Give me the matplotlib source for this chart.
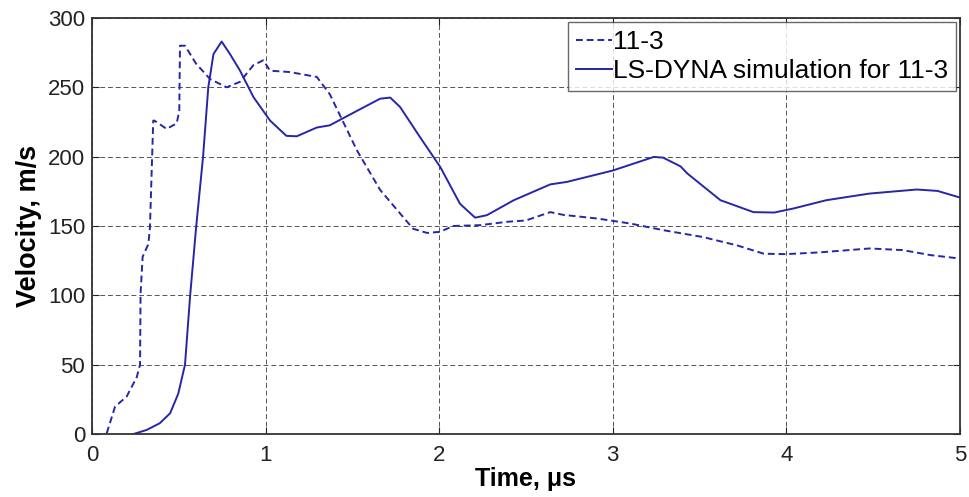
import matplotlib
matplotlib.use("Agg")
import matplotlib.pyplot as plt

plt.rcParams['font.family'] = ['Liberation Sans', 'DejaVu Sans']

# Measured velocity, test 11-3
t_exp = [0.085, 0.133, 0.2, 0.258, 0.277, 0.28, 0.292, 0.325, 0.334, 0.353, 0.36,
         0.43, 0.488, 0.503, 0.507, 0.536, 0.6, 0.68, 0.776, 0.853, 0.93, 0.987,
         1.026, 1.14, 1.295, 1.37, 1.526, 1.66, 1.775, 1.85, 1.93, 2.006, 2.08,
         2.236, 2.39, 2.5, 2.64, 2.716, 2.91, 3.1, 3.29, 3.4, 3.52, 3.716, 3.87,
         4.0, 4.196, 4.48, 4.67, 4.83, 5.0]
v_exp = [0.5, 19.7, 27, 41, 50, 101.6, 127.8, 137, 149, 226, 226,
         220, 224, 233, 280, 280, 267, 256, 250, 254, 266, 269.5,
         262, 261, 257.5, 245, 204.6, 176, 159, 148, 145, 145.8, 150,
         150.6, 153, 154, 160, 158, 155.4, 151.8, 147, 144.6, 142, 136, 130,
         129.7, 131, 133.8, 132.6, 129, 126.5]

# LS-DYNA simulation for 11-3
t_sim = [0.24, 0.315, 0.39, 0.45, 0.497, 0.536, 0.565, 0.6, 0.64, 0.67, 0.7,
         0.747, 0.795, 0.853, 0.93, 1.026, 1.12, 1.18, 1.295, 1.37, 1.526, 1.66,
         1.718, 1.775, 1.89, 2.006, 2.12, 2.207, 2.275, 2.43, 2.64, 2.736, 3.0,
         3.236, 3.29, 3.39, 3.43, 3.62, 3.81, 3.93, 4.04, 4.23, 4.48, 4.75, 4.87,
         5.0]
v_sim = [0, 2.9, 7.7, 14.9, 29, 50, 99, 149, 200, 250, 274,
         283, 274, 262, 243, 226, 215, 214.7, 221, 222.6, 233, 241.8,
         242.6, 235.8, 214, 192.6, 166, 156, 157.8, 168.6, 180, 181.8, 190,
         199.8, 199.3, 193, 187.8, 168.6, 160, 159.7, 162.6, 168.6, 173.4, 176.3, 175.3,
         170.5]

x_ticks = [0, 1, 2, 3, 4, 5]
y_ticks = [0, 50, 100, 150, 200, 250, 300]

line_color = '#2626a8'

fig = plt.figure(figsize=(9.7, 4.97), dpi=100)
ax = fig.add_axes([0.0948, 0.1268, 0.8949, 0.837])

ax.plot(t_exp, v_exp, linestyle=(0, (3.5, 2)), color=line_color, linewidth=1.4, label='11-3')
ax.plot(t_sim, v_sim, linestyle='-', color=line_color, linewidth=1.4,
        label='LS-DYNA simulation for 11-3')

ax.set_xlim(0, 5)
ax.set_ylim(0, 300)
ax.set_xticks(x_ticks)
ax.set_yticks(y_ticks)
ax.tick_params(direction='in', top=True, right=True, labelsize=16, length=5, width=0.8,
               colors='#222222')
ax.tick_params(axis='x', pad=8)
ax.tick_params(axis='y', pad=5)
ax.grid(True, linestyle=(0, (5, 3)), color='#555555', linewidth=0.7)

for s in ax.spines.values():
    s.set_linewidth(1.3)
    s.set_color('#333333')

ax.set_xlabel('Time, \u03bcs', fontsize=18, fontweight='bold', labelpad=1)
ax.set_ylabel('Velocity, m/s', fontsize=19.5, fontweight='bold', labelpad=4)

leg = ax.legend(loc='upper right', fontsize=19, frameon=True, fancybox=False,
                borderpad=0.3, handlelength=1.35, handletextpad=0.05, labelspacing=0.2,
                borderaxespad=0.15)
leg.get_frame().set_edgecolor('#444444')
leg.get_frame().set_linewidth(1.0)

fig.savefig('out.png', dpi=100)
